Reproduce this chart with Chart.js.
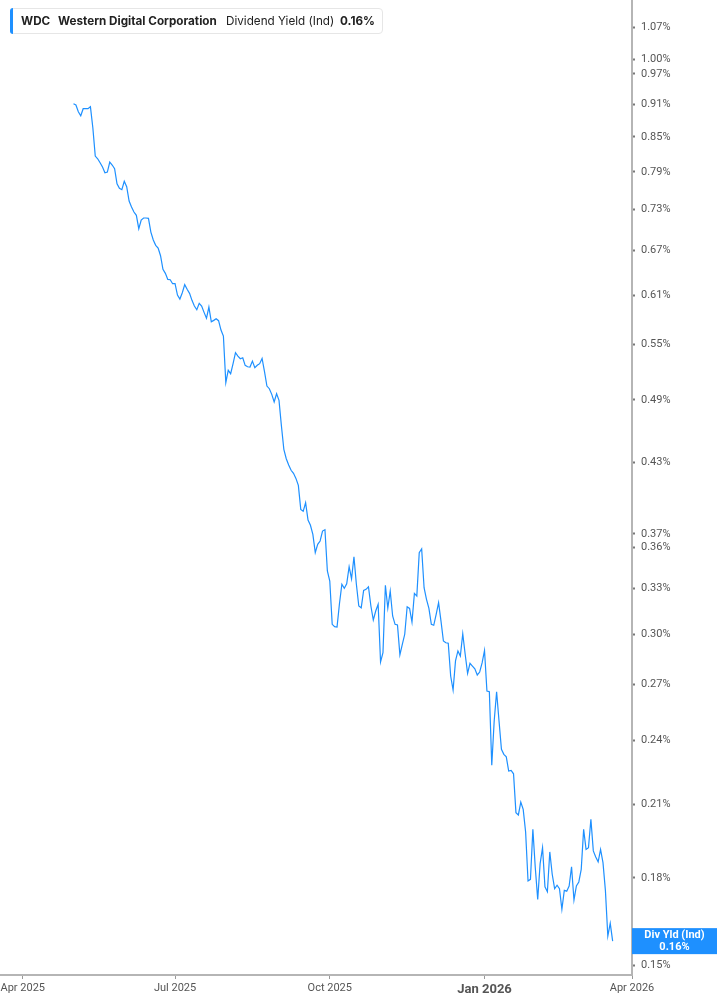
<!DOCTYPE html>
<html>
<head>
<meta charset="utf-8">
<script src="https://cdn.jsdelivr.net/npm/chart.js@4.4.1/dist/chart.umd.min.js"></script>
<style>
  html, body { margin:0; padding:0; background:#fff; }
  #wrap { position:relative; width:717px; height:1005px; overflow:hidden; }
  #c { position:absolute; left:0; top:0; }
  #legend { position:absolute; left:10px; top:8px; width:373px; height:26px; box-sizing:border-box;
    border:1px solid #e6e6e6; border-radius:4px; background:#fff; font-family:Inter, "Noto Sans", sans-serif;
    font-size:11.7px; color:#222; line-height:24px; }
  #legend .bar { position:absolute; left:-1px; top:-1px; bottom:-1px; width:3px; background:#1e90ff; border-radius:3px 0 0 3px; }
  #legend span { position:absolute; top:0; white-space:nowrap; }
  #legend .b { font-weight:700; }
</style>
</head>
<body>
<div id="wrap">
  <canvas id="c" width="717" height="1005"></canvas>
  <div id="legend"><div class="bar"></div>
    <span class="b" style="left:10px">WDC</span>
    <span class="b" style="left:47px">Western Digital Corporation</span>
    <span style="left:215px">Dividend Yield (Ind)</span>
    <span class="b" style="left:329px">0.16%</span>
  </div>
</div>
<script>
// ---- data ----
const tickLabels = ['Apr 2025', 'Jul 2025', 'Oct 2025', 'Jan 2026', 'Apr 2026'];
const tickIndex = [0, 63, 127, 191, 252];   // trading-day index of each month label
const startIndex = 21;                      // trading-day index of first value
const yTickValues = [0.15, 0.18, 0.21, 0.24, 0.27, 0.30, 0.33, 0.36, 0.37, 0.43, 0.49, 0.55, 0.61, 0.67, 0.73, 0.79, 0.85, 0.91, 0.97, 1.00, 1.07];
const dividendYield = [
  0.9111, 0.9087, 0.8960, 0.8885, 0.9017, 0.9017, 0.9017, 0.9054, 0.8665, 0.8166,
  0.8120, 0.8052, 0.7980, 0.7885, 0.7897, 0.8064, 0.8014, 0.7952, 0.7706, 0.7632,
  0.7610, 0.7745, 0.7658, 0.7432, 0.7339, 0.7262, 0.7212, 0.7013, 0.7142, 0.7172,
  0.7172, 0.7167, 0.6964, 0.6849, 0.6773, 0.6735, 0.6627, 0.6441, 0.6387, 0.6307,
  0.6302, 0.6250, 0.6250, 0.6103, 0.6052, 0.6133, 0.6237, 0.6177, 0.6125, 0.6036,
  0.5964, 0.5918, 0.5998, 0.5964, 0.5886, 0.5813, 0.5952, 0.5771, 0.5788, 0.5808,
  0.5784, 0.5672, 0.5601, 0.5081, 0.5213, 0.5176, 0.5286, 0.5409, 0.5371, 0.5341,
  0.5352, 0.5268, 0.5252, 0.5249, 0.5315, 0.5241, 0.5268, 0.5286, 0.5345, 0.5198,
  0.5044, 0.5016, 0.4957, 0.4878, 0.4963, 0.4895, 0.4639, 0.4418, 0.4332, 0.4275,
  0.4228, 0.4201, 0.4157, 0.4097, 0.3896, 0.3880, 0.3950, 0.3810, 0.3768, 0.3697,
  0.3558, 0.3621, 0.3646, 0.3723, 0.3733, 0.3424, 0.3353, 0.3062, 0.3047, 0.3045,
  0.3197, 0.3330, 0.3302, 0.3334, 0.3455, 0.3369, 0.3528, 0.3330, 0.3182, 0.3170,
  0.3288, 0.3295, 0.3313, 0.3182, 0.3090, 0.3149, 0.3193, 0.2830, 0.2885, 0.3323,
  0.3168, 0.3283, 0.3116, 0.3062, 0.3058, 0.2873, 0.2936, 0.2999, 0.3177, 0.3166,
  0.3077, 0.3267, 0.3249, 0.3558, 0.3587, 0.3306, 0.3227, 0.3166, 0.3062, 0.3056,
  0.3127, 0.3204, 0.3083, 0.2957, 0.2946, 0.2943, 0.2748, 0.2668, 0.2836, 0.2896,
  0.2865, 0.3002, 0.2876, 0.2763, 0.2822, 0.2806, 0.2790, 0.2754, 0.2771, 0.2824,
  0.2899, 0.2663, 0.2659, 0.2279, 0.2501, 0.2659, 0.2501, 0.2357, 0.2332, 0.2320,
  0.2252, 0.2255, 0.2239, 0.2064, 0.2054, 0.2110, 0.2078, 0.1982, 0.1789, 0.1795,
  0.1993, 0.1839, 0.1721, 0.1855, 0.1918, 0.1767, 0.1749, 0.1901, 0.1814, 0.1760,
  0.1773, 0.1760, 0.1686, 0.1754, 0.1751, 0.1770, 0.1843, 0.1719, 0.1770, 0.1785,
  0.1833, 0.1993, 0.1911, 0.1918, 0.2035, 0.1905, 0.1881, 0.1862, 0.1911, 0.1859,
  0.1754, 0.1594, 0.1637, 0.1577
];
const badgeLines = ['Div Yld (Ind)', '0.16%'];

// ---- chart ----
const points = dividendYield.map((v, i) => ({ x: startIndex + i, y: v }));
const lineColor = '#1e90ff';

const badgePlugin = {
  id: 'badge',
  afterDraw(chart) {
    const ys = chart.scales.y;
    const ctx = chart.ctx;
    const last = dividendYield[dividendYield.length - 1];
    const py = ys.getPixelForValue(last);
    const x0 = ys.left, x1 = chart.width;
    ctx.save();
    ctx.fillStyle = lineColor;
    ctx.fillRect(x0, py - 13, x1 - x0, 26);
    ctx.fillStyle = '#fff';
    ctx.font = 'bold 11px Roboto, "Liberation Sans", sans-serif';
    ctx.textAlign = 'center';
    ctx.textBaseline = 'middle';
    const cx = (x0 + x1) / 2;
    ctx.fillText(badgeLines[0], cx, py - 5.5);
    ctx.fillText(badgeLines[1], cx, py + 6);
    ctx.restore();
  }
};

new Chart(document.getElementById('c').getContext('2d'), {
  type: 'line',
  data: { datasets: [{ data: points, borderColor: lineColor, borderWidth: 1.2, pointRadius: 0, tension: 0, fill: false }] },
  plugins: [badgePlugin],
  options: {
    responsive: false, animation: false,
    layout: { padding: 0 },
    plugins: { legend: { display: false }, tooltip: { enabled: false } },
    scales: {
      x: {
        type: 'linear', bounds: 'data', min: -9.4, max: 252,
        grid: { drawOnChartArea: false, drawTicks: true, tickLength: 4, tickColor: '#999', tickWidth: 1 },
        border: { display: true, color: '#b5b5b5', width: 2 },
        ticks: {
          autoSkip: false, maxRotation: 0, padding: 3,
          color: '#555',
          font: (c) => (c.tick && c.tick.value === tickIndex[3])
            ? { family: 'Roboto', size: 13, weight: 'bold' }
            : { family: 'Roboto', size: 11 },
          callback: (v) => { const k = tickIndex.indexOf(v); return k >= 0 ? tickLabels[k] : ''; }
        },
        afterBuildTicks: (s) => { s.ticks = tickIndex.map(v => ({ value: v })); },
        afterFit: (s) => { s.height = 30; s.paddingLeft = 0; s.paddingRight = 0; }
      },
      y: {
        type: 'logarithmic', position: 'right', bounds: 'data', min: 0.14690, max: 1.1323,
        grid: { drawOnChartArea: false, drawTicks: true, tickLength: 3, tickColor: '#777', tickWidth: 2 },
        border: { display: true, color: '#b5b5b5', width: 2 },
        ticks: {
          autoSkip: false, padding: 6, color: '#555',
          font: { family: 'Roboto', size: 11 },
          callback: (v) => Number(v).toFixed(2) + '%'
        },
        afterBuildTicks: (s) => { s.ticks = yTickValues.map(v => ({ value: v })); },
        afterFit: (s) => { s.width = 85; s.paddingTop = 0; s.paddingBottom = 0; }
      }
    }
  }
});
</script>
</body>
</html>
